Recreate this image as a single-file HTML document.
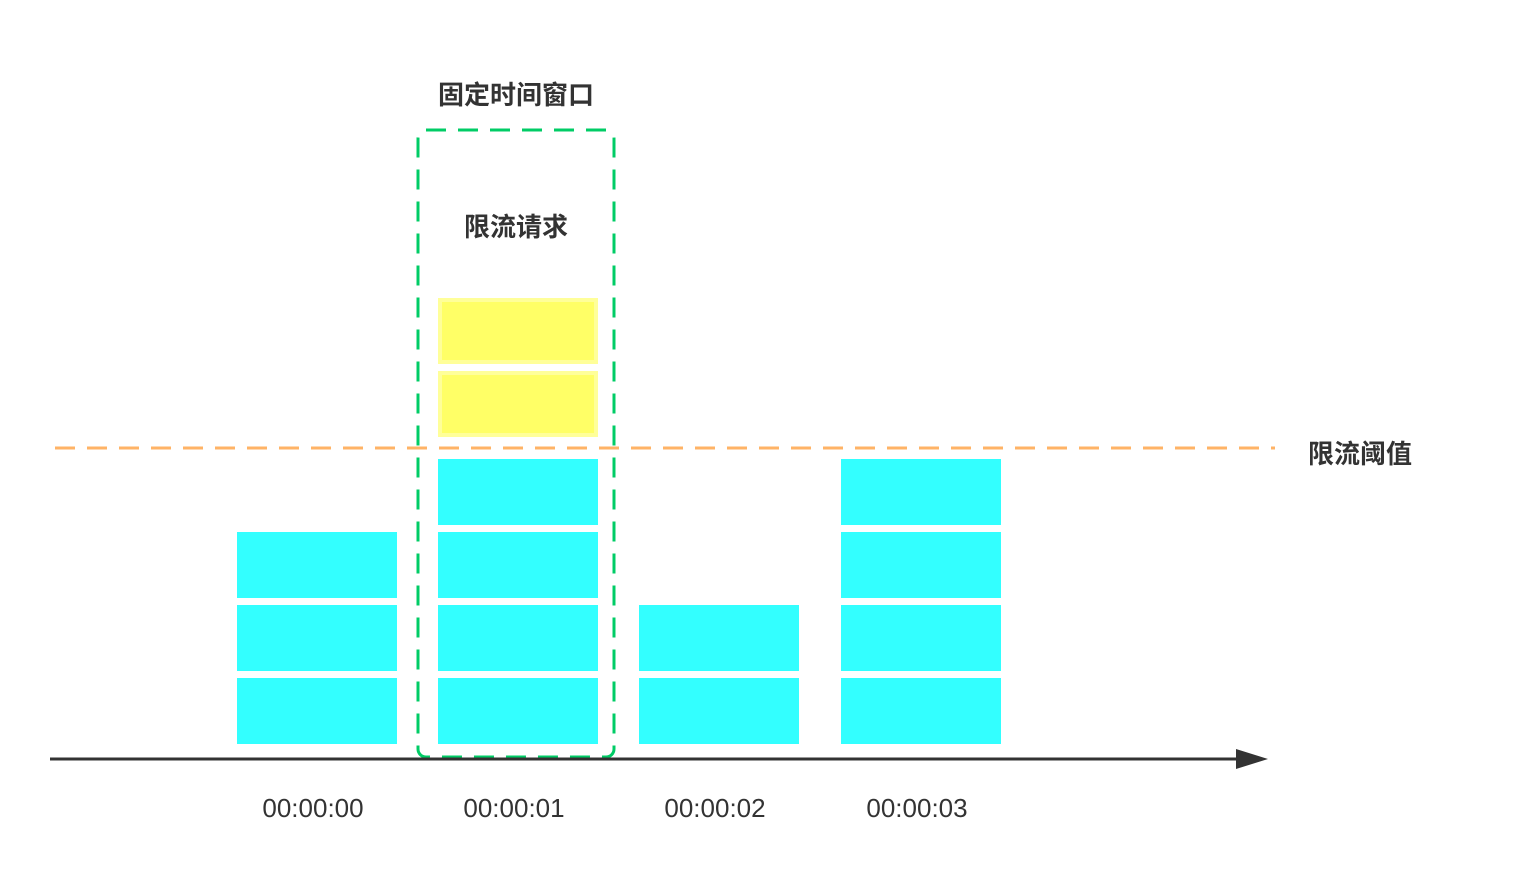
<!DOCTYPE html>
<html><head><meta charset="utf-8"><style>
html,body{margin:0;padding:0;background:#fff;}
svg{display:block;}
text{font-family:"Liberation Sans","Noto Sans CJK SC",sans-serif;}
</style></head><body>
<svg id="chart" width="1530" height="894" viewBox="0 0 1530 894" xmlns="http://www.w3.org/2000/svg">
  <line x1="55" y1="448" x2="1275" y2="448" stroke="#FFB366" stroke-width="3" stroke-dasharray="20 12"/>
  <text x="1308" y="463" font-size="26" font-weight="bold" fill="#333">限流阈值</text>
  <g id="bars"></g>
  <rect x="418" y="130" width="196" height="627" rx="8" fill="none" stroke="#00CC66" stroke-width="3" stroke-dasharray="20 12"/>
  <text x="516" y="104" font-size="26" font-weight="bold" fill="#333" text-anchor="middle">固定时间窗口</text>
  <text x="516" y="236" font-size="26" font-weight="bold" fill="#333" text-anchor="middle">限流请求</text>
  <line x1="50" y1="759" x2="1240" y2="759" stroke="#333" stroke-width="3"/>
  <polygon points="1236,749 1268,759 1236,769" fill="#333"/>
  <g id="labels"></g>
</svg>
<script>
const categories = ["00:00:00","00:00:01","00:00:02","00:00:03"];
const acceptedCounts = [3,4,2,4];
const rejectedCounts = [0,2,0,0];

const NS = "http://www.w3.org/2000/svg";
const colX = i => Math.round(236.5 + i * 201.4);
const blockW = 160, blockH = 66, pitch = 73, baseY = 744;
const blockY = k => baseY - blockH - k * pitch;
const bars = document.getElementById("bars");
const labels = document.getElementById("labels");
categories.forEach((c, i) => {
  const x = colX(i);
  for (let k = 0; k < acceptedCounts[i]; k++) {
    const r = document.createElementNS(NS, "rect");
    
    
    r.setAttribute("x", x); r.setAttribute("y", blockY(k));
    r.setAttribute("width", blockW); r.setAttribute("height", blockH);
    r.setAttribute("fill", "#33FFFF");
    bars.appendChild(r);
  }
  for (let k = 0; k < rejectedCounts[i]; k++) {
    const r = document.createElementNS(NS, "rect");
    
    
    r.setAttribute("x", x + 2); r.setAttribute("y", blockY(acceptedCounts[i] + k) - 13);
    r.setAttribute("width", blockW - 4); r.setAttribute("height", blockH - 4);
    r.setAttribute("fill", "#FFFF66");
    r.setAttribute("stroke", "#FFFF99"); r.setAttribute("stroke-width", "4");
    bars.appendChild(r);
  }
  const t = document.createElementNS(NS, "text");
  
  
  t.setAttribute("x", x + 76); t.setAttribute("y", 817);
  t.setAttribute("font-size", "26"); t.setAttribute("fill", "#333");
  t.setAttribute("text-anchor", "middle");
  t.textContent = c;
  labels.appendChild(t);
});
</script>
</body></html>
